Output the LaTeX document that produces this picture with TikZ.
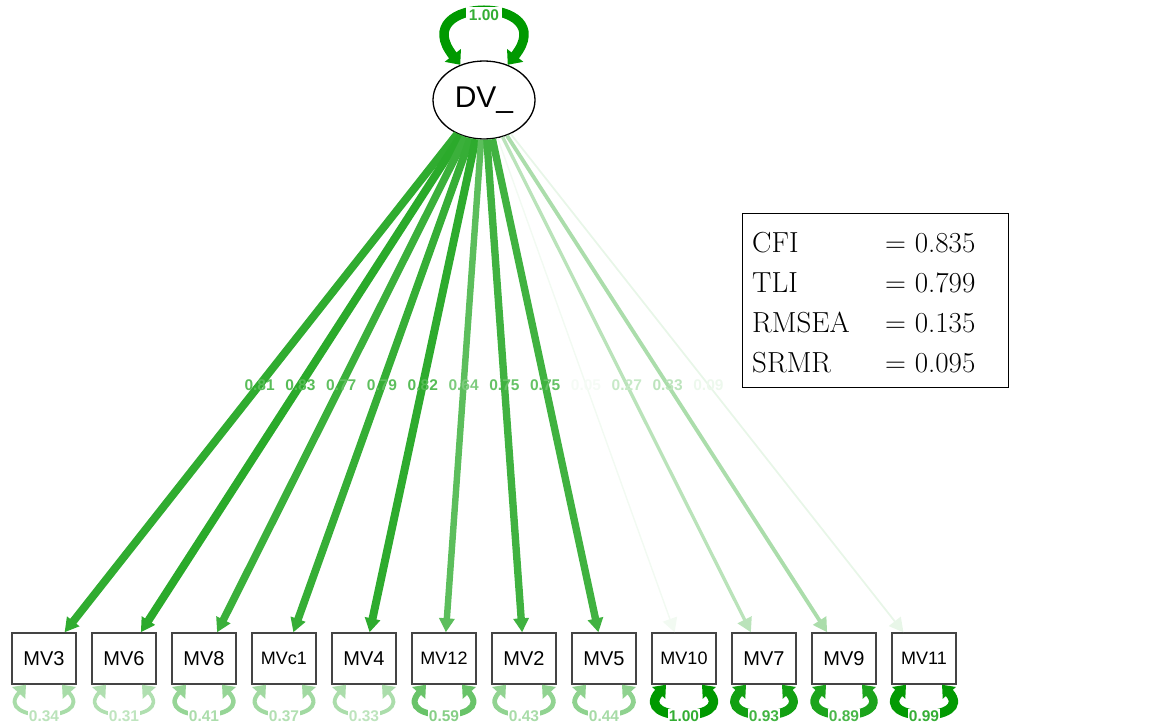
\documentclass[tikz,border=0pt]{standalone}
\usepackage{fontspec}
\setsansfont{Liberation Sans}
\usetikzlibrary{arrows.meta,calc,shapes.geometric}
\definecolor{posgreen}{HTML}{009900}
\definecolor{boxline}{HTML}{444444}

\begin{document}
\begin{tikzpicture}[x=1pt,y=-1pt,
  latent/.style={ellipse, draw=black, line width=1.3pt, fill=white,
    minimum width=102pt, minimum height=78pt, inner sep=0pt,
    font=\sffamily\fontsize{30}{30}\selectfont},
  manifest/.style={draw=boxline, line width=1.4pt, fill=white,
    minimum width=64pt, minimum height=51pt, inner sep=0pt,
    font=\sffamily\fontsize{#1}{#1}\selectfont},
  weightlabel/.style={font=\sffamily\bfseries\fontsize{15.5}{15.5}\selectfont, inner sep=0pt},
  reslabel/.style={font=\sffamily\bfseries\fontsize{15.5}{15.5}\selectfont, fill=white, inner sep=1pt},
  loadtip/.style={-{Triangle[length=14pt,width=15pt]}},
  looptip/.style={{Triangle[length=11pt,width=17pt]}-{Triangle[length=11pt,width=17pt]}},
  toptip/.style={{Triangle[length=12pt,width=20pt]}-{Triangle[length=12pt,width=20pt]}},
  fitrow/.style={font=\fontsize{29}{29}\selectfont, inner sep=0pt, anchor=base west}
]
\useasboundingbox (0,0) rectangle (1150,727);

% latent factor
\node[latent] (dv) at (484,100) {DV\_};

% indicators
\foreach \n/\t/\fs [count=\i from 0] in
  {mv3/MV3/20, mv6/MV6/20, mv8/MV8/20, mvc1/MVc1/18, mv4/MV4/20, mv12/MV12/18,
   mv2/MV2/20, mv5/MV5/20, mv10/MV10/18, mv7/MV7/20, mv9/MV9/20, mv11/MV11/18}
  {\node[manifest=\fs] (\n) at ({44+80*\i},658.5) {\t};}

% loadings and residual variances
\foreach \n/\w/\r in
  {mv3/0.81/0.34, mv6/0.83/0.31, mv8/0.77/0.41, mvc1/0.79/0.37, mv4/0.82/0.33,
   mv12/0.64/0.59, mv2/0.75/0.43, mv5/0.75/0.44, mv10/0.05/1.00, mv7/0.27/0.93,
   mv9/0.33/0.89, mv11/0.09/0.99}
{
  \pgfmathtruncatemacro\pct{round(100*\w)}
  \pgfmathtruncatemacro\lpct{round(80*\w)}
  \pgfmathsetmacro\lw{1+8.5*\w}
  \draw[line width=\lw pt, draw=posgreen!\pct!white, loadtip] (dv) -- (\n);
  \node[weightlabel, text=posgreen!\lpct!white] (lbl\n)
    at ($(dv.center)!0.51!(\n.center)$) {\w};
  \pgfmathtruncatemacro\rpct{round(100*\r)}
  \pgfmathtruncatemacro\rlpct{round(80*\r)}
  \pgfmathsetmacro\rlw{1+8.5*\r}
  \draw[line width=\rlw pt, draw=posgreen!\rpct!white, looptip]
    ([xshift=-18pt]\n.south) .. controls ([xshift=-52pt,yshift=-38pt]\n.south)
    and ([xshift=52pt,yshift=-38pt]\n.south) .. ([xshift=18pt]\n.south);
  \node[reslabel, text=posgreen!\rlpct!white] (res\n)
    at ([yshift=-31pt]\n.south) {\r};
}

% factor variance
\draw[line width=9.5pt, draw=posgreen, toptip]
  (dv.124) .. controls (405,-5) and (563,-5) .. (dv.56);
\node[reslabel, text=posgreen!80!white, inner sep=3pt] (resdv) at (484,15) {1.00};

% fit indices
\node[draw=black, line width=1.1pt, minimum width=266pt, minimum height=174pt,
  inner sep=0pt, anchor=north west] (fit) at (742,213) {};
\node[fitrow] (cfi) at (752,252) {CFI};
\node[fitrow] (cfiv) at (885,252) {= 0.835};
\node[fitrow] (tli) at (752,292) {TLI};
\node[fitrow] (tliv) at (885,292) {= 0.799};
\node[fitrow] (rmsea) at (752,332) {RMSEA};
\node[fitrow] (rmseav) at (885,332) {= 0.135};
\node[fitrow] (srmr) at (752,372) {SRMR};
\node[fitrow] (srmrv) at (885,372) {= 0.095};
\end{tikzpicture}
\end{document}
